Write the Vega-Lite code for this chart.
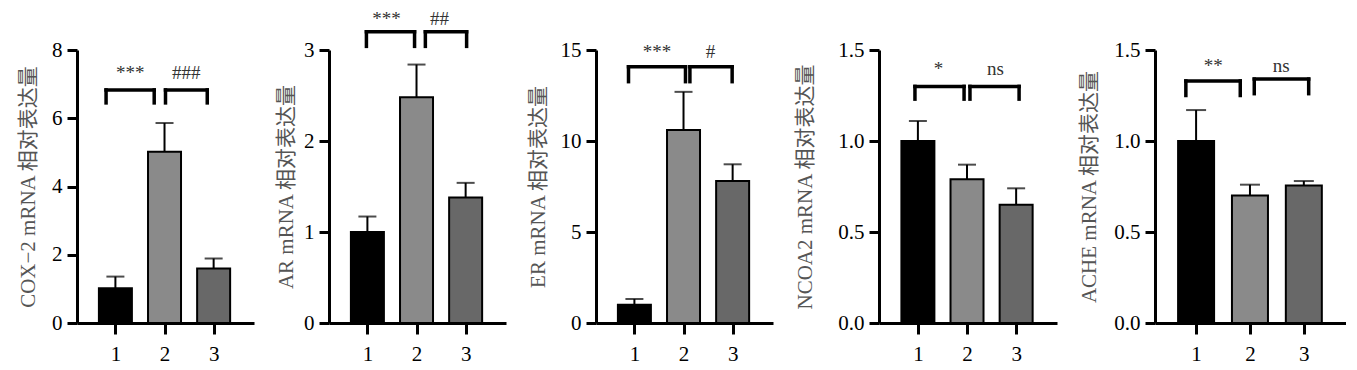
{
  "$schema": "https://vega.github.io/schema/vega-lite/v6.json",
  "padding": {"left": 17, "top": 10, "right": 0, "bottom": 0},
  "spacing": 21,
  "config": {
    "view": {"stroke": null},
    "axis": {
      "grid": false,
      "domainColor": "#000000",
      "domainWidth": 3,
      "tickColor": "#000000",
      "tickWidth": 3,
      "tickSize": 10,
      "labelFont": "Liberation Serif",
      "labelFontSize": 21,
      "labelColor": "#000000",
      "labelPadding": 5,
      "titleFont": "Liberation Serif, Noto Sans CJK SC",
      "titleFontSize": 21,
      "titleFontWeight": "normal",
      "titleColor": "#555555"
    },
    "axisX": {"labelPadding": 9, "tickSize": 11},
    "text": {"font": "Liberation Serif", "fontSize": 19, "color": "#333333"}
  },
  "hconcat": [
    {
      "width": 177, "height": 273,
      "data": {"values": [{"g": 1, "m": 1.02, "e": 1.36}, {"g": 2, "m": 5.02, "e": 5.86}, {"g": 3, "m": 1.6, "e": 1.89}]},
      "layer": [
        {"mark": {"type": "bar", "size": 33, "stroke": "#000000", "strokeWidth": 2},
         "encoding": {
           "x": {"field": "g", "type": "quantitative", "scale": {"domain": [0.32, 3.72], "nice": false, "zero": false}, "axis": {"values": [1, 2, 3], "format": "d", "title": null}},
           "y": {"field": "m", "type": "quantitative", "scale": {"domain": [0, 8], "nice": false}, "axis": {"values": [0, 2, 4, 6, 8], "format": "d", "title": "COX−2 mRNA 相对表达量", "titlePadding": 13}},
           "color": {"field": "g", "type": "nominal", "scale": {"domain": [1, 2, 3], "range": ["#000000", "#8a8a8a", "#686868"]}, "legend": null}}},
        {"mark": {"type": "rule", "strokeWidth": 2, "color": "#000000"},
         "encoding": {"x": {"field": "g", "type": "quantitative"}, "y": {"field": "m", "type": "quantitative"}, "y2": {"field": "e"}}},
        {"mark": {"type": "tick", "orient": "horizontal", "size": 18, "thickness": 2, "color": "#000000"},
         "encoding": {"x": {"field": "g", "type": "quantitative"}, "y": {"field": "e", "type": "quantitative"}}},
        {"data": {"values": [{"a": 0.81, "b": 1.79, "top": 6.83, "bot": 6.45}, {"a": 2.02, "b": 2.87, "top": 6.83, "bot": 6.45}]},
         "layer": [
           {"mark": {"type": "rule", "strokeWidth": 3.5, "strokeCap": "square", "color": "#000000"}, "encoding": {"x": {"field": "a", "type": "quantitative"}, "x2": {"field": "b"}, "y": {"field": "top", "type": "quantitative"}}},
           {"mark": {"type": "rule", "strokeWidth": 3.5, "strokeCap": "square", "color": "#000000"}, "encoding": {"x": {"field": "a", "type": "quantitative"}, "y": {"field": "bot", "type": "quantitative"}, "y2": {"field": "top"}}},
           {"mark": {"type": "rule", "strokeWidth": 3.5, "strokeCap": "square", "color": "#000000"}, "encoding": {"x": {"field": "b", "type": "quantitative"}, "y": {"field": "bot", "type": "quantitative"}, "y2": {"field": "top"}}}
         ]},
        {"data": {"values": [{"x": 1.3, "y": 7.15, "t": "***"}, {"x": 2.44, "y": 7.15, "t": "###"}]},
         "mark": {"type": "text", "baseline": "alphabetic", "align": "center"},
         "encoding": {"x": {"field": "x", "type": "quantitative"}, "y": {"field": "y", "type": "quantitative"}, "text": {"field": "t"}}}
      ]
    },
    {
      "width": 177, "height": 273,
      "data": {"values": [{"g": 1, "m": 1.0, "e": 1.17}, {"g": 2, "m": 2.48, "e": 2.84}, {"g": 3, "m": 1.38, "e": 1.54}]},
      "layer": [
        {"mark": {"type": "bar", "size": 33, "stroke": "#000000", "strokeWidth": 2},
         "encoding": {
           "x": {"field": "g", "type": "quantitative", "scale": {"domain": [0.32, 3.72], "nice": false, "zero": false}, "axis": {"values": [1, 2, 3], "format": "d", "title": null}},
           "y": {"field": "m", "type": "quantitative", "scale": {"domain": [0, 3], "nice": false}, "axis": {"values": [0, 1, 2, 3], "format": "d", "title": "AR mRNA 相对表达量", "titlePadding": 7}},
           "color": {"field": "g", "type": "nominal", "scale": {"domain": [1, 2, 3], "range": ["#000000", "#8a8a8a", "#686868"]}, "legend": null}}},
        {"mark": {"type": "rule", "strokeWidth": 2, "color": "#000000"},
         "encoding": {"x": {"field": "g", "type": "quantitative"}, "y": {"field": "m", "type": "quantitative"}, "y2": {"field": "e"}}},
        {"mark": {"type": "tick", "orient": "horizontal", "size": 18, "thickness": 2, "color": "#000000"},
         "encoding": {"x": {"field": "g", "type": "quantitative"}, "y": {"field": "e", "type": "quantitative"}}},
        {"data": {"values": [{"a": 0.98, "b": 1.96, "top": 3.2, "bot": 3.04}, {"a": 2.18, "b": 3.02, "top": 3.2, "bot": 3.04}]},
         "layer": [
           {"mark": {"type": "rule", "strokeWidth": 3.5, "strokeCap": "square", "color": "#000000"}, "encoding": {"x": {"field": "a", "type": "quantitative"}, "x2": {"field": "b"}, "y": {"field": "top", "type": "quantitative"}}},
           {"mark": {"type": "rule", "strokeWidth": 3.5, "strokeCap": "square", "color": "#000000"}, "encoding": {"x": {"field": "a", "type": "quantitative"}, "y": {"field": "bot", "type": "quantitative"}, "y2": {"field": "top"}}},
           {"mark": {"type": "rule", "strokeWidth": 3.5, "strokeCap": "square", "color": "#000000"}, "encoding": {"x": {"field": "b", "type": "quantitative"}, "y": {"field": "bot", "type": "quantitative"}, "y2": {"field": "top"}}}
         ]},
        {"data": {"values": [{"x": 1.39, "y": 3.27, "t": "***"}, {"x": 2.47, "y": 3.27, "t": "##"}]},
         "mark": {"type": "text", "baseline": "alphabetic", "align": "center"},
         "encoding": {"x": {"field": "x", "type": "quantitative"}, "y": {"field": "y", "type": "quantitative"}, "text": {"field": "t"}}}
      ]
    },
    {
      "width": 177, "height": 273,
      "data": {"values": [{"g": 1, "m": 1.0, "e": 1.32}, {"g": 2, "m": 10.6, "e": 12.7}, {"g": 3, "m": 7.8, "e": 8.72}]},
      "layer": [
        {"mark": {"type": "bar", "size": 33, "stroke": "#000000", "strokeWidth": 2},
         "encoding": {
           "x": {"field": "g", "type": "quantitative", "scale": {"domain": [0.32, 3.72], "nice": false, "zero": false}, "axis": {"values": [1, 2, 3], "format": "d", "title": null}},
           "y": {"field": "m", "type": "quantitative", "scale": {"domain": [0, 15], "nice": false}, "axis": {"values": [0, 5, 10, 15], "format": "d", "title": "ER mRNA 相对表达量", "titlePadding": 12}},
           "color": {"field": "g", "type": "nominal", "scale": {"domain": [1, 2, 3], "range": ["#000000", "#8a8a8a", "#686868"]}, "legend": null}}},
        {"mark": {"type": "rule", "strokeWidth": 2, "color": "#000000"},
         "encoding": {"x": {"field": "g", "type": "quantitative"}, "y": {"field": "m", "type": "quantitative"}, "y2": {"field": "e"}}},
        {"mark": {"type": "tick", "orient": "horizontal", "size": 18, "thickness": 2, "color": "#000000"},
         "encoding": {"x": {"field": "g", "type": "quantitative"}, "y": {"field": "e", "type": "quantitative"}}},
        {"data": {"values": [{"a": 0.88, "b": 2.04, "top": 14.08, "bot": 13.26}, {"a": 2.13, "b": 2.99, "top": 14.08, "bot": 13.26}]},
         "layer": [
           {"mark": {"type": "rule", "strokeWidth": 3.5, "strokeCap": "square", "color": "#000000"}, "encoding": {"x": {"field": "a", "type": "quantitative"}, "x2": {"field": "b"}, "y": {"field": "top", "type": "quantitative"}}},
           {"mark": {"type": "rule", "strokeWidth": 3.5, "strokeCap": "square", "color": "#000000"}, "encoding": {"x": {"field": "a", "type": "quantitative"}, "y": {"field": "bot", "type": "quantitative"}, "y2": {"field": "top"}}},
           {"mark": {"type": "rule", "strokeWidth": 3.5, "strokeCap": "square", "color": "#000000"}, "encoding": {"x": {"field": "b", "type": "quantitative"}, "y": {"field": "bot", "type": "quantitative"}, "y2": {"field": "top"}}}
         ]},
        {"data": {"values": [{"x": 1.46, "y": 14.56, "t": "***"}, {"x": 2.55, "y": 14.56, "t": "#"}]},
         "mark": {"type": "text", "baseline": "alphabetic", "align": "center"},
         "encoding": {"x": {"field": "x", "type": "quantitative"}, "y": {"field": "y", "type": "quantitative"}, "text": {"field": "t"}}}
      ]
    },
    {
      "width": 178, "height": 273,
      "data": {"values": [{"g": 1, "m": 1.0, "e": 1.11}, {"g": 2, "m": 0.79, "e": 0.87}, {"g": 3, "m": 0.65, "e": 0.74}]},
      "layer": [
        {"mark": {"type": "bar", "size": 33, "stroke": "#000000", "strokeWidth": 2},
         "encoding": {
           "x": {"field": "g", "type": "quantitative", "scale": {"domain": [0.31, 3.73], "nice": false, "zero": false}, "axis": {"values": [1, 2, 3], "format": "d", "title": null}},
           "y": {"field": "m", "type": "quantitative", "scale": {"domain": [0, 1.5], "nice": false}, "axis": {"values": [0, 0.5, 1, 1.5], "format": ".1f", "title": "NCOA2 mRNA 相对表达量", "titlePadding": 22}},
           "color": {"field": "g", "type": "nominal", "scale": {"domain": [1, 2, 3], "range": ["#000000", "#8a8a8a", "#686868"]}, "legend": null}}},
        {"mark": {"type": "rule", "strokeWidth": 2, "color": "#000000"},
         "encoding": {"x": {"field": "g", "type": "quantitative"}, "y": {"field": "m", "type": "quantitative"}, "y2": {"field": "e"}}},
        {"mark": {"type": "tick", "orient": "horizontal", "size": 18, "thickness": 2, "color": "#000000"},
         "encoding": {"x": {"field": "g", "type": "quantitative"}, "y": {"field": "e", "type": "quantitative"}}},
        {"data": {"values": [{"a": 0.94, "b": 1.94, "top": 1.3, "bot": 1.23}, {"a": 2.06, "b": 3.06, "top": 1.3, "bot": 1.23}]},
         "layer": [
           {"mark": {"type": "rule", "strokeWidth": 3.5, "strokeCap": "square", "color": "#000000"}, "encoding": {"x": {"field": "a", "type": "quantitative"}, "x2": {"field": "b"}, "y": {"field": "top", "type": "quantitative"}}},
           {"mark": {"type": "rule", "strokeWidth": 3.5, "strokeCap": "square", "color": "#000000"}, "encoding": {"x": {"field": "a", "type": "quantitative"}, "y": {"field": "bot", "type": "quantitative"}, "y2": {"field": "top"}}},
           {"mark": {"type": "rule", "strokeWidth": 3.5, "strokeCap": "square", "color": "#000000"}, "encoding": {"x": {"field": "b", "type": "quantitative"}, "y": {"field": "bot", "type": "quantitative"}, "y2": {"field": "top"}}}
         ]},
        {"data": {"values": [{"x": 1.42, "y": 1.36, "t": "*"}, {"x": 2.58, "y": 1.36, "t": "ns"}]},
         "mark": {"type": "text", "baseline": "alphabetic", "align": "center"},
         "encoding": {"x": {"field": "x", "type": "quantitative"}, "y": {"field": "y", "type": "quantitative"}, "text": {"field": "t"}}}
      ]
    },
    {
      "width": 191, "height": 273,
      "data": {"values": [{"g": 1, "m": 1.0, "e": 1.17}, {"g": 2, "m": 0.7, "e": 0.76}, {"g": 3, "m": 0.755, "e": 0.78}]},
      "layer": [
        {"mark": {"type": "bar", "size": 36, "stroke": "#000000", "strokeWidth": 2},
         "encoding": {
           "x": {"field": "g", "type": "quantitative", "scale": {"domain": [0.33, 3.69], "nice": false, "zero": false}, "axis": {"values": [1, 2, 3], "format": "d", "title": null}},
           "y": {"field": "m", "type": "quantitative", "scale": {"domain": [0, 1.5], "nice": false}, "axis": {"values": [0, 0.5, 1, 1.5], "format": ".1f", "title": "ACHE mRNA 相对表达量", "titlePadding": 14}},
           "color": {"field": "g", "type": "nominal", "scale": {"domain": [1, 2, 3], "range": ["#000000", "#8a8a8a", "#686868"]}, "legend": null}}},
        {"mark": {"type": "rule", "strokeWidth": 2, "color": "#000000"},
         "encoding": {"x": {"field": "g", "type": "quantitative"}, "y": {"field": "m", "type": "quantitative"}, "y2": {"field": "e"}}},
        {"mark": {"type": "tick", "orient": "horizontal", "size": 20, "thickness": 2, "color": "#000000"},
         "encoding": {"x": {"field": "g", "type": "quantitative"}, "y": {"field": "e", "type": "quantitative"}}},
        {"data": {"values": [{"a": 0.81, "b": 1.82, "top": 1.33, "bot": 1.25}, {"a": 2.08, "b": 3.09, "top": 1.34, "bot": 1.26}]},
         "layer": [
           {"mark": {"type": "rule", "strokeWidth": 3.5, "strokeCap": "square", "color": "#000000"}, "encoding": {"x": {"field": "a", "type": "quantitative"}, "x2": {"field": "b"}, "y": {"field": "top", "type": "quantitative"}}},
           {"mark": {"type": "rule", "strokeWidth": 3.5, "strokeCap": "square", "color": "#000000"}, "encoding": {"x": {"field": "a", "type": "quantitative"}, "y": {"field": "bot", "type": "quantitative"}, "y2": {"field": "top"}}},
           {"mark": {"type": "rule", "strokeWidth": 3.5, "strokeCap": "square", "color": "#000000"}, "encoding": {"x": {"field": "b", "type": "quantitative"}, "y": {"field": "bot", "type": "quantitative"}, "y2": {"field": "top"}}}
         ]},
        {"data": {"values": [{"x": 1.32, "y": 1.38, "t": "**"}, {"x": 2.58, "y": 1.38, "t": "ns"}]},
         "mark": {"type": "text", "baseline": "alphabetic", "align": "center"},
         "encoding": {"x": {"field": "x", "type": "quantitative"}, "y": {"field": "y", "type": "quantitative"}, "text": {"field": "t"}}}
      ]
    }
  ]
}
